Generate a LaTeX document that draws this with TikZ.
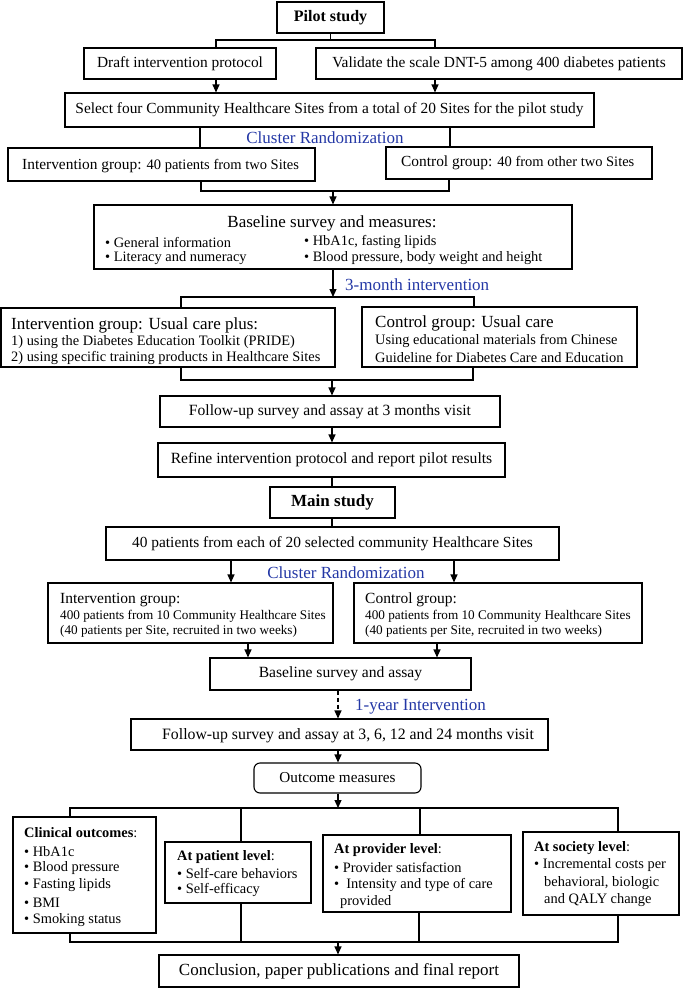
\documentclass[tikz,border=0pt]{standalone}
\usepackage{fontspec}
\setmainfont{Liberation Serif}
\usetikzlibrary{arrows.meta}
\definecolor{blueTxt}{RGB}{35,55,165}
\newcommand\fsz[1]{\fontsize{#1}{#1}\selectfont}
\begin{document}
\begin{tikzpicture}[x=1pt,y=-1pt,
  box/.style={draw, line width=1.1pt, inner sep=0pt},
  txt/.style={inner sep=0pt, font=\fsz{15.4}},
  ltxt/.style={inner sep=0pt, anchor=west, font=\fsz{14.4}},
  btxt/.style={inner sep=0pt, text=blueTxt, font=\fsz{17}},
  conn/.style={line width=1.1pt},
  arr/.style={line width=1.1pt, -{Triangle[length=8pt,width=7pt]}}]
\useasboundingbox (0,0) rectangle (685,988);

% ---------- Pilot study ----------
\node[box, minimum width=107pt, minimum height=31pt, font=\fsz{16}\bfseries] (pilot) at (330.5,17.5) {Pilot study};
\node[box, minimum width=192pt, minimum height=31pt, font=\fsz{15.4}] (draft) at (180,63.5) {Draft intervention protocol};
\node[box, minimum width=366pt, minimum height=31pt, font=\fsz{15.4}] (validate) at (499,63.5) {Validate the scale DNT-5 among 400 diabetes patients};
\node[box, minimum width=529pt, minimum height=34pt, font=\fsz{15.4}] (select) at (329.5,110) {Select four Community Healthcare Sites from a total of 20 Sites for the pilot study};

\node[btxt] (cr1) at (325,138) {Cluster Randomization};

\node[box, minimum width=307pt, minimum height=33pt] (interv1) at (161.5,164.5) {};
\node[ltxt, font=\fsz{15.4}] (interv1T) at (22,166) {Intervention group: {\fsz{14.5}40 patients from two Sites}};
\node[box, minimum width=266pt, minimum height=32pt] (control1) at (519,163) {};
\node[ltxt, font=\fsz{15.4}] (control1T) at (401,163) {Control group: {\fsz{14.5}40 from other two Sites}};

\node[box, minimum width=478pt, minimum height=64pt] (baseline) at (333,237) {};
\node[inner sep=0pt, font=\fsz{17}] (baselineT) at (332,223) {Baseline survey and measures:};
\node[ltxt] (bl1) at (105,242) {• General information};
\node[ltxt] (bl2) at (105,258) {• Literacy and numeracy};
\node[ltxt] (bl3) at (304,242) {• HbA1c, fasting lipids};
\node[ltxt] (bl4) at (304,258) {• Blood pressure, body weight and height};

\node[btxt, anchor=west] (m3) at (345,285) {3-month intervention};

\node[box, minimum width=334pt, minimum height=59pt] (intervU) at (168,337.5) {};
\node[ltxt, font=\fsz{17}] (iu1) at (11,325) {Intervention group: Usual care plus:};
\node[ltxt] (iu2) at (11,342) {1) using the Diabetes Education Toolkit (PRIDE)};
\node[ltxt] (iu3) at (11,358) {2) using specific training products in Healthcare Sites};

\node[box, minimum width=275pt, minimum height=60pt] (controlU) at (499.5,337) {};
\node[ltxt, font=\fsz{17}] (cu1) at (375,323) {Control group: Usual care};
\node[ltxt] (cu2) at (375,341) {Using educational materials from Chinese};
\node[ltxt] (cu3) at (375,357) {Guideline for Diabetes Care and Education};

\node[box, minimum width=340pt, minimum height=31pt, font=\fsz{15.6}] (follow3) at (330,411.5) {Follow-up survey and assay at 3 months visit};
\node[box, minimum width=347pt, minimum height=34pt, font=\fsz{15.6}] (refine) at (331.5,460) {Refine intervention protocol and report pilot results};

% ---------- Main study ----------
\node[box, minimum width=125pt, minimum height=31pt, font=\fsz{17}\bfseries] (main) at (332.5,502.5) {Main study};
\node[box, minimum width=453pt, minimum height=33pt, font=\fsz{15.4}] (forty) at (332.5,543.5) {40 patients from each of 20 selected community Healthcare Sites};

\node[btxt] (cr2) at (346,573) {Cluster Randomization};

\node[box, minimum width=285pt, minimum height=60pt] (intervM) at (190.5,613) {};
\node[ltxt, font=\fsz{15.5}] (im1) at (60,600) {Intervention group:};
\node[ltxt, font=\fsz{13.2}] (im2) at (60,616) {400 patients from 10 Community Healthcare Sites};
\node[ltxt, font=\fsz{13.2}] (im3) at (60,631) {(40 patients per Site, recruited in two weeks)};

\node[box, minimum width=288pt, minimum height=60pt] (controlM) at (498,613) {};
\node[ltxt, font=\fsz{15.5}] (cm1) at (365,600) {Control group:};
\node[ltxt, font=\fsz{13.2}] (cm2) at (365,616) {400 patients from 10 Community Healthcare Sites};
\node[ltxt, font=\fsz{13.2}] (cm3) at (365,631) {(40 patients per Site, recruited in two weeks)};

\node[box, minimum width=261pt, minimum height=32pt, font=\fsz{15.6}] (baselineA) at (340.5,674) {Baseline survey and assay};

\node[btxt, anchor=west] (y1) at (355,707) {1-year Intervention};

\node[box, minimum width=417pt, minimum height=31pt] (follow4) at (339.5,734.5) {};
\node[ltxt, font=\fsz{15.8}] (follow4T) at (162,736) {Follow-up survey and assay at 3, 6, 12 and 24 months visit};

\node[box, rounded corners=6pt, minimum width=167pt, minimum height=30pt, font=\fsz{15.2}] (outcome) at (337.5,778) {Outcome measures};

% ---------- outcome boxes ----------
\node[box, minimum width=143pt, minimum height=116pt] (clinical) at (84.5,875) {};
\node[ltxt] (cl0) at (24,833) {\textbf{Clinical outcomes}:};
\node[ltxt] (cl1) at (24,852) {• HbA1c};
\node[ltxt] (cl2) at (24,868) {• Blood pressure};
\node[ltxt] (cl3) at (24,885) {• Fasting lipids};
\node[ltxt] (cl4) at (24,903) {• BMI};
\node[ltxt] (cl5) at (24,920) {• Smoking status};

\node[box, minimum width=146pt, minimum height=61pt] (patient) at (238,872.5) {};
\node[ltxt] (pa0) at (177,857) {\textbf{At patient level}:};
\node[ltxt] (pa1) at (177,873) {• Self-care behaviors};
\node[ltxt] (pa2) at (177,890) {• Self-efficacy};

\node[box, minimum width=188pt, minimum height=77pt] (provider) at (417,873.5) {};
\node[ltxt] (pr0) at (334,850) {\textbf{At provider level}:};
\node[ltxt] (pr1) at (334,867) {• Provider satisfaction};
\node[ltxt] (pr2) at (334,885) {•\ \ Intensity and type of care};
\node[ltxt] (pr3) at (340,902) {provided};

\node[box, minimum width=156pt, minimum height=83pt] (society) at (601,873.5) {};
\node[ltxt] (so0) at (534,848) {\textbf{At society level}:};
\node[ltxt] (so1) at (534,865) {• Incremental costs per};
\node[ltxt] (so2) at (544,883) {behavioral, biologic};
\node[ltxt] (so3) at (544,900) {and QALY change};

\node[box, minimum width=360pt, minimum height=32pt, font=\fsz{17}] (conclusion) at (339,971) {Conclusion, paper publications and final report};

% ---------- connectors ----------
\coordinate (pA) at (216,40); \coordinate (pB) at (435,40);
\draw[conn] (pilot.south) -- (pilot.south |- pA);
\draw[conn] (draft.north -| pA) -- (pA) -- (pB) -- (validate.north -| pB);
\draw[arr] (draft.south -| pA) -- (select.north -| pA);
\draw[arr] (validate.south -| pB) -- (select.north -| pB);

\coordinate (sA) at (200,0); \coordinate (sB) at (450,0);
\draw[conn] (select.south -| sA) -- (interv1.north -| sA);
\draw[conn] (select.south -| sB) -- (control1.north -| sB);

\coordinate (gA) at (201,191); \coordinate (gB) at (449,191);
\draw[conn] (interv1.south -| gA) -- (gA) -- (gB) -- (control1.south -| gB);
\draw[arr] (baseline.north |- gA) -- (baseline.north);

\coordinate (bA) at (181,297); \coordinate (bB) at (474,297);
\draw[arr] (baseline.south) -- (baseline.south |- bA);
\draw[conn] (intervU.north -| bA) -- (bA) -- (bB) -- (controlU.north -| bB);

\coordinate (uA) at (181,380); \coordinate (uB) at (473,380); \coordinate (uC) at (332,380);
\draw[conn] (intervU.south -| uA) -- (uA) -- (uB) -- (controlU.south -| uB);
\draw[arr] (uC) -- (follow3.north -| uC);
\draw[arr] (follow3.south -| uC) -- (refine.north -| uC);
\draw[conn] (refine.south -| uC) -- (main.north -| uC);
\draw[conn] (main.south -| uC) -- (forty.north -| uC);

\coordinate (fA) at (231,0); \coordinate (fB) at (454,0);
\draw[arr] (forty.south -| fA) -- (intervM.north -| fA);
\draw[arr] (forty.south -| fB) -- (controlM.north -| fB);

\coordinate (mA) at (248,0); \coordinate (mB) at (437,0);
\draw[arr] (intervM.south -| mA) -- (baselineA.north -| mA);
\draw[arr] (controlM.south -| mB) -- (baselineA.north -| mB);

\coordinate (cx) at (338,0);
\draw[arr, dash pattern=on 4pt off 3pt] (baselineA.south -| cx) -- (follow4.north -| cx);
\draw[arr] (follow4.south -| cx) -- (outcome.north -| cx);

\coordinate (oA) at (70,808); \coordinate (oB) at (241,808);
\coordinate (oC) at (420,808); \coordinate (oD) at (618,808);
\draw[arr] (outcome.south -| cx) -- (cx |- oA);
\draw[conn] (clinical.north -| oA) -- (oA) -- (oD) -- (society.north -| oD);
\draw[conn] (oB) -- (patient.north -| oB);
\draw[conn] (oC) -- (provider.north -| oC);

\coordinate (kA) at (70,942); \coordinate (kB) at (241,942);
\coordinate (kC) at (419,942); \coordinate (kD) at (618,942);
\draw[conn] (clinical.south -| kA) -- (kA) -- (kD) -- (society.south -| kD);
\draw[conn] (patient.south -| kB) -- (kB);
\draw[conn] (provider.south -| kC) -- (kC);
\draw[arr] (cx |- kA) -- (conclusion.north -| cx);
\end{tikzpicture}
\end{document}
